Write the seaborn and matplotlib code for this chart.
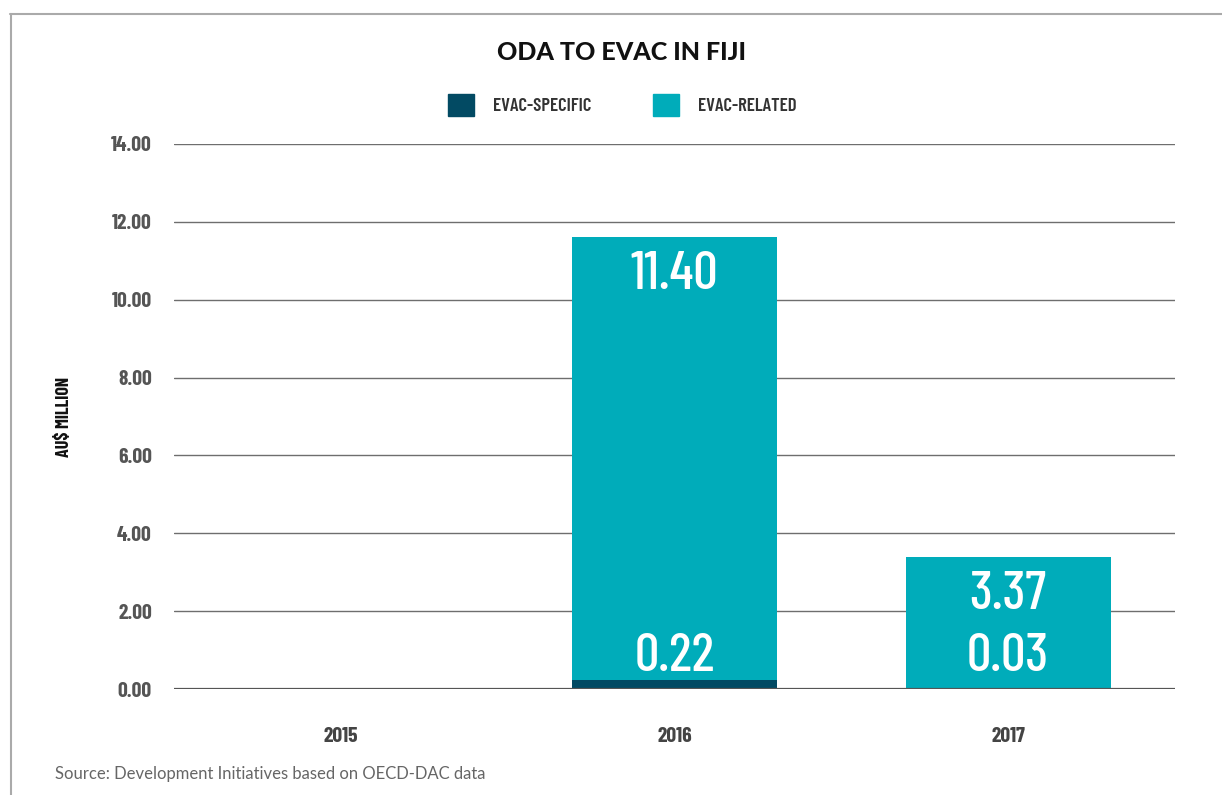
import numpy as np
import pandas as pd
import matplotlib.pyplot as plt
import matplotlib.lines as mlines
import matplotlib.patches as mpatches
import seaborn as sns

# data
years = ["2015", "2016", "2017"]
evac_specific = [0.0, 0.22, 0.03]
evac_related = [0.0, 11.40, 3.37]
yticks = [0, 2, 4, 6, 8, 10, 12, 14]

dark = "#024a63"
teal = "#00acba"
cond = ["Barlow Condensed", "DejaVu Sans"]

sns.set_style("white")
plt.rcParams["font.family"] = ["Lato", "DejaVu Sans"]

df = pd.DataFrame({"Year": years, "Specific": evac_specific, "Related": evac_related})
df["Total"] = df["Specific"] + df["Related"]

fig = plt.figure(figsize=(12.22, 7.95), dpi=100)
ax = fig.add_axes([0.1424, 0.1333, 0.8191, 0.6856])

# stacked bars: total (teal) first, specific (dark) over it at the base
sns.barplot(data=df, x="Year", y="Total", color=teal, saturation=1, width=0.615,
            linewidth=0, ax=ax, zorder=3)
sns.barplot(data=df, x="Year", y="Specific", color=dark, saturation=1, width=0.615,
            linewidth=0, ax=ax, zorder=4)

ax.set_ylim(0, 14)
ax.set_xlim(-0.5, 2.5)
ax.set_yticks(yticks)
ax.set_yticklabels([f"{v:.2f}" for v in yticks], family=cond, fontweight=700, fontsize=15.5, color="#555555")
ax.set_xticks(range(len(years)))
ax.set_xticklabels(years, family=cond, fontweight=700, fontsize=15.5, color="#444444")
ax.tick_params(axis="y", length=0, pad=16)
ax.tick_params(axis="x", length=0, pad=27)
ax.yaxis.grid(True, color="#6e6e6e", linewidth=1)
ax.set_axisbelow(True)
for s in ax.spines.values():
    s.set_visible(False)
ax.axhline(0, color="#555555", linewidth=1.6, zorder=5)
ax.set_xlabel("")
ax.set_ylabel("AU$ MILLION", family=cond, fontweight=700, fontsize=13, color="#111111")
ax.yaxis.set_label_coords(-0.101, 0.5)

# value labels
for i in range(len(years)):
    if df["Total"][i] <= 0:
        continue
    ax.text(i, df["Total"][i] - 0.38, f"{evac_related[i]:.2f}", ha="center", va="top",
            color="white", family=cond, fontweight=500, fontsize=39, zorder=6)
    ax.text(i, 0.2, f"{evac_specific[i]:.2f}", ha="center", va="bottom",
            color="white", family=cond, fontweight=500, fontsize=39, zorder=6)

# title and legend
fig.text(0.509, 0.934, "ODA TO EVAC IN FIJI", ha="center", va="center",
         fontsize=18, fontweight="black", color="#111111")
handles = [mpatches.Patch(color=dark, label="EVAC-SPECIFIC"),
           mpatches.Patch(color=teal, label="EVAC-RELATED")]
leg = fig.legend(handles=handles, loc="center", bbox_to_anchor=(0.509, 0.868), ncol=2, frameon=False,
                 handlelength=1.4, handleheight=1.4, handletextpad=1.0, columnspacing=3.3,
                 prop={"family": cond, "weight": 600, "size": 13.5})
for t in leg.get_texts():
    t.set_color("#333333")

fig.text(0.045, 0.027, "Source: Development Initiatives based on OECD-DAC data", ha="left", va="center",
         fontsize=12, color="#666666")

# thin frame on the top and left edges
fig.add_artist(mlines.Line2D([0.008, 1.0], [0.982, 0.982], color="#aaaaaa", linewidth=1.5, transform=fig.transFigure))
fig.add_artist(mlines.Line2D([0.009, 0.009], [0.0, 0.982], color="#aaaaaa", linewidth=1.5, transform=fig.transFigure))

fig.savefig("out.png", dpi=100)
